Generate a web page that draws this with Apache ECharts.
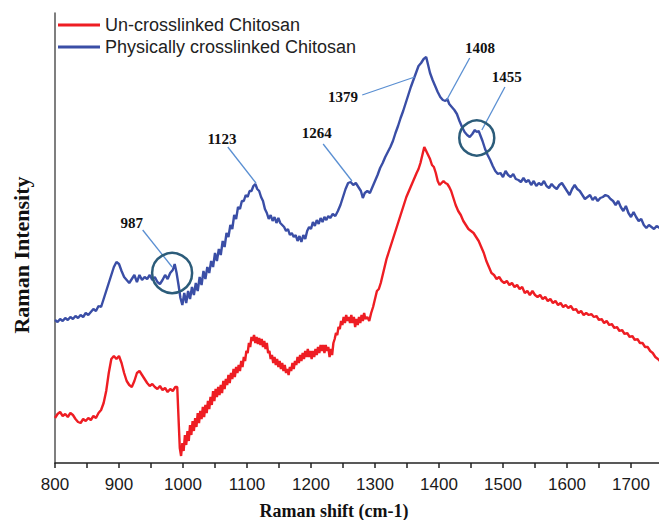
<!DOCTYPE html>
<html>
<head>
<meta charset="utf-8">
<title>Raman spectra of chitosan</title>
<script src="https://cdn.jsdelivr.net/npm/echarts@6/dist/echarts.min.js"></script>
<style>
  html, body { margin: 0; padding: 0; background: #fff; }
  #chart { width: 659px; height: 520px; }
</style>
</head>
<body>
<div id="chart"></div>
<script>
// Raman spectra: [Raman shift (cm-1), intensity in arbitrary units]
const unCrosslinked = [
  [800,45],[804,49],[808,51],[812,47],[816,49],[820,46],[824,50],[828,48],[832,44],[836,41],[840,40],[844,44],[848,42],[852,45],[856,43],[860,47],[864,45],[868,50],[872,53],[876,60],[880,72],[884,90],[888,104],[892,107],[896,104],[900,107],[904,100],[908,90],[912,82],[916,78],[920,76],[924,82],[928,90],[932,92],[936,88],[940,84],[944,80],[948,77],[952,79],[956,76],[960,74],[964,77],[968,73],[972,75],[976,71],[980,74],[984,72],[988,76],[991,76],[993,45],[995,15],[997,7],[999,20],
  [1001,12],[1003,28],[1005,18],[1007,32],[1009,22],[1011,38],[1013,28],[1015,42],[1017,32],[1019,45],[1021,36],[1023,50],[1025,40],[1027,52],[1029,44],[1031,56],[1033,46],[1035,58],[1037,50],[1039,62],[1041,54],[1043,66],[1045,58],[1047,72],[1049,62],[1051,74],[1053,66],[1055,76],[1057,68],[1059,78],[1061,70],[1063,82],[1065,74],[1067,84],[1069,78],[1071,88],[1073,80],[1075,90],[1077,84],[1079,94],[1081,86],[1083,96],[1085,90],[1087,98],[1089,92],[1091,102],[1093,96],[1095,106],[1097,102],[1099,112],
  [1101,110],[1103,120],[1105,116],[1107,126],[1109,122],[1111,128],[1113,120],[1115,126],[1117,119],[1119,125],[1121,118],[1123,124],[1125,116],[1127,122],[1129,114],[1131,120],[1133,110],[1135,112],[1137,104],[1139,108],[1141,100],[1143,106],[1145,98],[1147,104],[1149,96],[1151,102],[1153,94],[1155,100],[1157,92],[1159,98],[1161,90],[1163,94],[1165,88],[1167,96],[1169,92],[1171,100],[1173,94],[1175,102],[1177,98],[1179,106],[1181,100],[1183,108],[1185,102],[1187,110],[1189,104],[1191,112],[1193,106],[1195,114],[1197,106],[1199,112],
  [1201,104],[1203,112],[1205,106],[1207,114],[1209,108],[1211,116],[1213,110],[1215,118],[1217,112],[1219,118],[1221,110],[1223,118],[1225,112],[1227,116],[1229,106],[1231,114],[1233,108],[1235,120],[1237,124],[1239,130],[1241,128],[1243,136],[1245,134],[1247,142],[1249,138],[1251,146],[1253,140],[1255,148],[1257,142],[1259,146],[1261,140],[1263,148],[1265,140],[1267,146],[1269,136],[1271,144],[1273,138],[1275,146],[1277,140],[1279,148],[1281,142],[1283,150],[1285,144],[1288,146],[1291,142],[1294,150],[1297,156],
  [1300,164],[1303,172],[1306,174],[1309,180],[1312,188],[1315,196],[1318,204],[1321,210],[1325,218],[1329,226],[1333,234],[1337,242],[1341,250],[1345,258],[1349,266],[1353,272],[1357,278],[1361,284],[1365,290],[1368,294],[1371,300],[1374,308],[1377,316],[1380,312],[1383,308],[1386,304],[1389,298],[1392,296],[1395,290],[1398,282],
  [1401,278],[1404,280],[1407,282],[1410,280],[1413,279],[1416,276],[1419,272],[1422,266],[1426,258],[1430,252],[1434,248],[1438,242],[1442,238],[1446,234],[1450,232],[1454,230],[1458,226],[1462,222],[1466,216],[1470,210],[1474,202],[1478,196],[1482,190],[1486,188],[1490,184],[1494,186],[1498,182],
  [1502,180],[1506,182],[1510,178],[1514,180],[1518,176],[1522,178],[1526,174],[1530,176],[1534,170],[1538,172],[1542,168],[1546,172],[1550,168],[1554,166],[1558,168],[1562,164],[1566,166],[1570,162],[1574,164],[1578,160],[1582,162],[1586,158],[1590,160],[1594,156],[1598,158],
  [1602,155],[1606,157],[1610,153],[1614,154],[1618,150],[1622,152],[1626,148],[1630,150],[1634,148],[1638,149],[1642,146],[1646,147],[1650,143],[1654,144],[1658,140],[1662,142],[1666,138],[1670,139],[1674,135],[1678,136],[1682,132],[1686,133],[1690,129],[1694,130],[1698,126],
  [1702,127],[1706,123],[1710,124],[1714,120],[1718,120],[1722,116],[1726,116],[1730,112],[1734,110],[1738,106],[1742,104],[1745,102]
];

const physicallyCrosslinked = [
  [800,143],[804,141],[808,144],[812,142],[816,145],[820,143],[824,146],[828,144],[832,147],[836,145],[840,148],[844,146],[848,150],[852,148],[856,151],[860,154],[864,152],[868,157],[872,156],[876,164],[880,172],[884,180],[888,188],[892,196],[896,201],[900,199],[904,192],[908,186],[912,183],[916,180],[920,184],[924,188],[928,181],[932,188],[936,183],[940,186],[944,184],[948,188],[952,183],[956,186],[960,181],[964,179],[968,183],[972,188],[976,184],[980,190],[984,193],[987,199],[990,190],[993,178],[996,165],[999,158],
  [1002,170],[1005,160],[1008,172],[1011,164],[1014,176],[1017,168],[1020,180],[1023,172],[1026,186],[1029,178],[1032,192],[1035,184],[1038,196],[1041,190],[1044,202],[1047,196],[1050,210],[1053,202],[1056,214],[1059,208],[1062,222],[1065,216],[1068,230],[1071,226],[1074,238],[1077,234],[1080,248],[1083,244],[1086,256],[1089,254],[1092,262],[1095,262],[1098,268],
  [1101,266],[1104,272],[1107,272],[1110,277],[1113,279],[1116,274],[1119,272],[1122,266],[1125,262],[1128,254],[1131,250],[1134,244],[1137,248],[1140,242],[1143,246],[1146,240],[1149,245],[1152,240],[1155,238],[1158,236],[1161,232],[1164,234],[1167,228],[1170,230],[1173,226],[1176,228],[1179,222],[1182,227],[1185,221],[1188,228],[1191,224],[1194,232],[1197,236],
  [1200,234],[1203,241],[1206,237],[1209,243],[1212,239],[1215,245],[1218,241],[1221,246],[1224,243],[1227,247],[1230,245],[1234,249],[1238,247],[1242,252],[1246,258],[1250,266],[1254,274],[1258,280],[1262,281],[1266,278],[1270,280],[1274,276],[1278,272],[1281,265],[1284,270],[1288,272],[1292,270],[1296,276],
  [1300,282],[1304,288],[1308,295],[1312,300],[1316,306],[1320,311],[1324,316],[1328,322],[1332,330],[1336,337],[1340,345],[1344,352],[1348,360],[1352,368],[1356,376],[1360,383],[1364,390],[1368,397],[1372,400],[1376,404],[1380,406],[1383,398],[1386,390],[1390,383],[1394,377],[1398,371],
  [1402,366],[1406,363],[1410,362],[1413,364],[1416,359],[1420,356],[1424,353],[1428,349],[1432,342],[1436,336],[1440,331],[1444,328],[1448,326],[1452,329],[1456,333],[1459,331],[1462,332],[1465,327],[1468,322],[1472,314],[1476,308],[1480,303],[1484,297],[1488,292],[1492,289],[1496,290],
  [1500,286],[1504,292],[1508,288],[1512,286],[1516,289],[1520,284],[1524,283],[1528,281],[1532,285],[1536,281],[1540,283],[1544,278],[1548,282],[1552,277],[1556,280],[1560,278],[1564,282],[1568,277],[1572,275],[1576,279],[1580,276],[1584,274],[1588,278],[1592,280],[1596,276],
  [1600,272],[1604,268],[1608,274],[1612,278],[1616,274],[1620,272],[1624,268],[1628,264],[1632,266],[1636,268],[1640,263],[1644,266],[1648,262],[1652,265],[1656,266],[1660,268],[1664,267],[1668,264],[1672,262],[1676,258],[1680,262],[1684,256],[1688,252],[1692,257],[1696,250],
  [1700,246],[1704,251],[1708,246],[1712,242],[1716,244],[1720,238],[1724,235],[1728,238],[1732,236],[1736,234],[1740,237],[1745,235]
];

// Band assignments marked on the crosslinked spectrum
const peakNames   = ['987', '1123', '1264', '1379', '1408', '1455'];
const peakTips    = [[983,196], [1114,280], [1264,282], [1362,386], [1412,363], [1467,333]];
const arrowTails  = [[937,233], [1070,316], [1219,319], [1280,368], [1448,405], [1503,376]];
const labelSpots  = [[920,240], [1061,324], [1209,330], [1250,366], [1464,415], [1506,386]];
const ringCenters = [[983,190], [1459,325]];
const ringSizes   = [40, 35];

const seriesNames = ['Un-crosslinked Chitosan', 'Physically crosslinked Chitosan'];
const seriesColors = ['#ee1d23', '#3a4ea6'];

const sans = 'Liberation Sans, Arial, sans-serif';
const serif = 'Liberation Serif, Times New Roman, serif';

// open arrow head pointing up (markLine rotates it along the line)
const openArrow = 'path://M5,0 L10,12 L8.6,12 L5,3.2 L1.4,12 L0,12 Z';

const markPoints = [];
ringCenters.forEach((c, i) => {
  markPoints.push({
    coord: c,
    symbol: 'circle',
    symbolSize: ringSizes[i],
    itemStyle: { color: 'rgba(0,0,0,0)', borderColor: '#2c5c7a', borderWidth: 2.5 },
    label: { show: false }
  });
});
peakNames.forEach((n, i) => {
  markPoints.push({
    coord: labelSpots[i],
    value: n,
    symbol: 'circle',
    symbolSize: 1,
    itemStyle: { color: 'rgba(0,0,0,0)' },
    label: {
      show: true, position: 'inside', formatter: n,
      fontFamily: serif, fontWeight: 'bold', fontSize: 15, color: '#111'
    }
  });
});

const markLines = peakTips.map((tip, i) => [{ coord: arrowTails[i] }, { coord: tip }]);

const chart = echarts.init(document.getElementById('chart'), null, { renderer: 'svg' });

chart.setOption({
  animation: false,
  backgroundColor: '#fff',
  grid: { left: 55, right: -4, top: 13, bottom: 57, outerBoundsMode: 'none' },
  legend: {
    data: seriesNames,
    orient: 'vertical',
    left: 58,
    top: 16,
    padding: 0,
    itemGap: 4,
    itemWidth: 42,
    itemHeight: 3,
    icon: 'rect',
    textStyle: { fontFamily: sans, fontSize: 18, color: '#222', lineHeight: 18 }
  },
  xAxis: {
    type: 'value',
    min: 800,
    max: 1750,
    interval: 50,
    axisLine: { show: true, onZero: false, lineStyle: { color: '#222', width: 1.5 } },
    axisTick: { show: true, inside: false, length: 5, lineStyle: { color: '#222', width: 1.5 } },
    axisLabel: {
      fontFamily: sans, fontSize: 17, color: '#1a1a1a', margin: 13,
      formatter: v => (v % 100 === 0 ? String(v) : '')
    },
    splitLine: { show: false }
  },
  yAxis: {
    type: 'value',
    min: 0,
    max: 450,
    axisLine: { show: true, lineStyle: { color: '#555', width: 1.5 } },
    axisTick: { show: false },
    axisLabel: { show: false },
    splitLine: { show: false }
  },
  graphic: [
    {
      type: 'text', x: 334, y: 511, silent: true,
      style: {
        text: 'Raman shift (cm-1)', fontFamily: serif, fontWeight: 'bold',
        fontSize: 18, fill: '#111', align: 'center', verticalAlign: 'middle'
      }
    },
    {
      type: 'text', x: 21, y: 255, rotation: Math.PI / 2, silent: true,
      style: {
        text: 'Raman Intensity', fontFamily: serif, fontWeight: 'bold',
        fontSize: 22, fill: '#111', align: 'center', verticalAlign: 'middle'
      }
    }
  ],
  series: [
    {
      name: seriesNames[0],
      type: 'line',
      data: unCrosslinked,
      showSymbol: false,
      symbol: 'none',
      color: seriesColors[0],
      lineStyle: { color: seriesColors[0], width: 2.4 },
      z: 2
    },
    {
      name: seriesNames[1],
      type: 'line',
      data: physicallyCrosslinked,
      showSymbol: false,
      symbol: 'none',
      color: seriesColors[1],
      lineStyle: { color: seriesColors[1], width: 2.4 },
      z: 3,
      markPoint: { silent: true, data: markPoints },
      markLine: {
        silent: true,
        symbol: ['none', openArrow],
        symbolSize: [0, 9],
        label: { show: false },
        lineStyle: { color: '#5a8fd2', width: 1.3, type: 'solid' },
        emphasis: { disabled: true },
        data: markLines
      }
    }
  ]
});
</script>
</body>
</html>
